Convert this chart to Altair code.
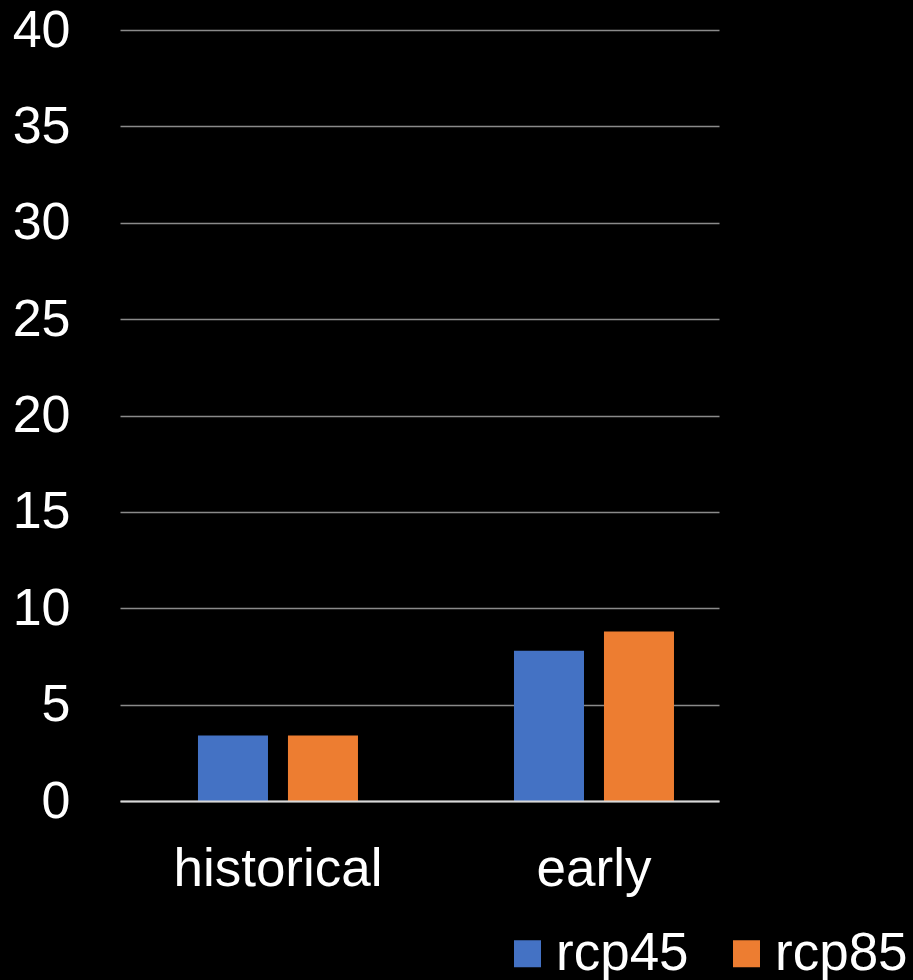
import altair as alt
import pandas as pd

# Mean values per period and emission scenario
periods = ["historical", "early"]
scenarios = ["rcp45", "rcp85"]
values_rcp45 = [3.4, 7.8]
values_rcp85 = [3.4, 8.8]
colors = ["#4472C4", "#ED7D31"]

rows = []
for i, p in enumerate(periods):
    rows.append({"period": p, "scenario": "rcp45", "value": values_rcp45[i]})
    rows.append({"period": p, "scenario": "rcp85", "value": values_rcp85[i]})
df = pd.DataFrame(rows)

FONT = "Liberation Sans"

bars = alt.Chart(df).mark_bar().encode(
    x=alt.X(
        "period:N",
        sort=periods,
        title=None,
        scale=alt.Scale(paddingInner=0.4937, paddingOuter=0.1946, align=0.634),
        axis=alt.Axis(
            labelAngle=0,
            labelFontSize=53,
            labelFont=FONT,
            labelColor="white",
            labelPadding=42,
            labelLimit=0,
            ticks=False,
            domain=True,
            domainColor="#d9d9d9",
            domainWidth=2,
            grid=False,
            zindex=1,
        ),
    ),
    xOffset=alt.XOffset(
        "scenario:N",
        sort=scenarios,
        scale=alt.Scale(paddingInner=0.222, paddingOuter=0),
    ),
    y=alt.Y(
        "value:Q",
        title=None,
        scale=alt.Scale(domain=[0, 40], nice=False),
        axis=alt.Axis(
            values=[0, 5, 10, 15, 20, 25, 30, 35, 40],
            labelFontSize=52,
            labelFont=FONT,
            labelColor="white",
            labelPadding=50,
            ticks=False,
            domain=False,
            grid=True,
            gridColor="#8a8a8a",
            gridWidth=1.5,
        ),
    ),
    color=alt.Color(
        "scenario:N",
        sort=scenarios,
        scale=alt.Scale(domain=scenarios, range=colors),
        legend=alt.Legend(
            title=None,
            orient="none",
            direction="horizontal",
            legendX=381,
            legendY=897,
            padding=0,
            symbolType="square",
            symbolSize=729,
            symbolStrokeWidth=0,
            symbolOpacity=1,
            labelFontSize=53,
            labelFont=FONT,
            labelColor="white",
            labelOffset=2,
            labelLimit=0,
            columnPadding=31,
        ),
    ),
)

chart = bars.properties(
    width=599,
    height=771,
    background="black",
    padding={"left": 120, "top": 30, "right": 194, "bottom": 179},
    autosize=alt.AutoSizeParams(type="none"),
).configure_view(stroke=None)

chart.save("out.html", embed_options={"renderer": "svg", "actions": False})
